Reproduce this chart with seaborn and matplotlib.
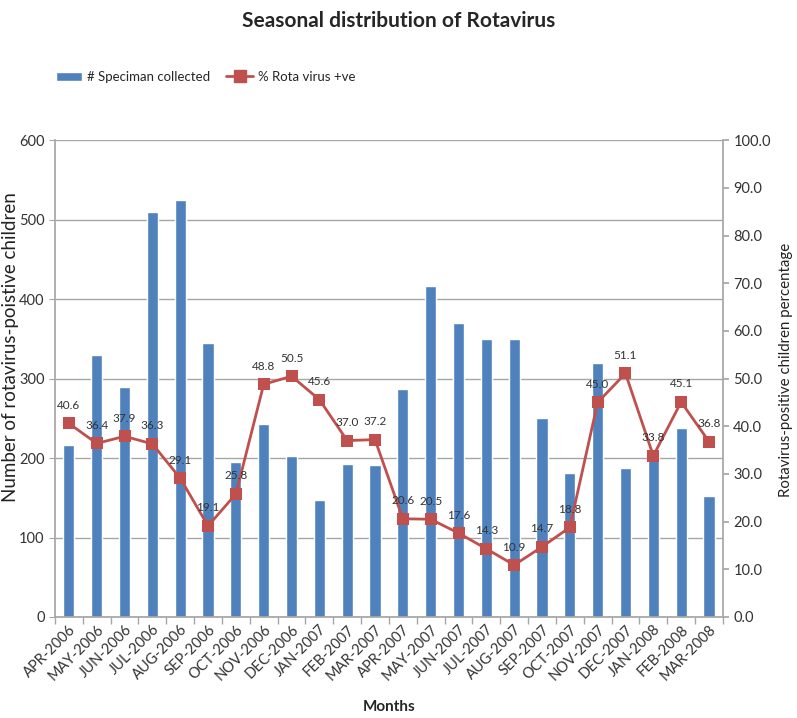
import matplotlib

matplotlib.use("Agg")

import matplotlib.pyplot as plt
import numpy as np
import pandas as pd
import seaborn as sns
from matplotlib.lines import Line2D
from matplotlib.patches import Patch

months = [
    "APR-2006", "MAY-2006", "JUN-2006", "JUL-2006", "AUG-2006", "SEP-2006",
    "OCT-2006", "NOV-2006", "DEC-2006", "JAN-2007", "FEB-2007", "MAR-2007",
    "APR-2007", "MAY-2007", "JUN-2007", "JUL-2007", "AUG-2007", "SEP-2007",
    "OCT-2007", "NOV-2007", "DEC-2007", "JAN-2008", "FEB-2008", "MAR-2008",
]
specimens = [
    217, 330, 290, 510, 525, 345, 195, 243, 202, 147, 192, 191,
    287, 416, 370, 350, 350, 251, 181, 320, 188, 202, 238, 152,
]
rota_pct = [
    40.6, 36.4, 37.9, 36.3, 29.1, 19.1, 25.8, 48.8, 50.5, 45.6, 37.0, 37.2,
    20.6, 20.5, 17.6, 14.3, 10.9, 14.7, 18.8, 45.0, 51.1, 33.8, 45.1, 36.8,
]

BAR_COLOR = "#4F81BD"
LINE_COLOR = "#C0504D"

sns.set_theme(style="white")
plt.rcParams["font.family"] = ["Lato", "DejaVu Sans"]

df = pd.DataFrame({"month": months, "specimens": specimens, "pct": rota_pct})
x = np.arange(len(months))

fig = plt.figure(figsize=(7.97, 7.18), dpi=100)
ax = fig.add_axes([0.069, 0.1407, 0.838, 0.664])

sns.barplot(data=df, x="month", y="specimens", color=BAR_COLOR, width=0.4,
            saturation=1, ax=ax, zorder=2)
ax.set_ylim(0, 600)
ax.set_xlim(-0.5, len(months) - 0.5)
ax.set_yticks(range(0, 601, 100))
ax.yaxis.grid(True, color="#A6A6A6", linewidth=1)
ax.set_axisbelow(True)
ax.tick_params(axis="y", labelsize=10.5, colors="#333333", length=4, left=True,
               direction="out", width=0.8)
ax.tick_params(axis="y", which="major", color="#A6A6A6")
ax.set_xticks(x)
ax.set_xticklabels(months, rotation=45, ha="right", rotation_mode="anchor",
                   fontsize=10.5, color="#333333")
ax.tick_params(axis="x", which="major", length=0, pad=4)
ax.set_xticks(np.arange(-0.5, len(months), 1), minor=True)
ax.tick_params(axis="x", which="minor", length=5, color="#A6A6A6", bottom=True)
for side in ["top", "right"]:
    ax.spines[side].set_visible(False)
for side in ["left", "bottom"]:
    ax.spines[side].set_color("#A6A6A6")
ax.set_xlabel("Months", fontsize=11, fontweight="bold", labelpad=12)
ax.set_ylabel("Number of rotavirus-poistive children", fontsize=13.5,
              color="#222222")
ax.yaxis.set_label_coords(-0.054, 0.566)

ax2 = ax.twinx()
sns.lineplot(x=x, y=rota_pct, ax=ax2, color=LINE_COLOR, linewidth=2,
             marker="s", markersize=9, markeredgewidth=0, zorder=3)
ax2.set_ylim(0, 100)
ax2.set_yticks(range(0, 101, 10))
ax2.set_yticklabels([f"{v:.1f}" for v in range(0, 101, 10)])
ax2.tick_params(axis="y", labelsize=10.5, colors="#333333", length=4,
                right=True, direction="out")
ax2.tick_params(axis="y", color="#A6A6A6")
for side in ["top", "left", "bottom"]:
    ax2.spines[side].set_visible(False)
ax2.spines["right"].set_color("#A6A6A6")
ax2.set_ylabel("Rotavirus-positive children percentage", fontsize=10.8,
               color="#222222")
ax2.yaxis.set_label_coords(1.084, 0.518)
ax2.grid(False)

for xi, v in zip(x, rota_pct):
    ax2.annotate(f"{v:.1f}", (xi, v), xytext=(0, 9), textcoords="offset points",
                 ha="center", va="bottom", fontsize=8.5, color="#333333")

fig.suptitle("Seasonal distribution of Rotavirus", y=0.985, fontsize=15,
             fontweight="bold")
handles = [
    Patch(facecolor=BAR_COLOR, label="# Speciman collected"),
    Line2D([0], [0], color=LINE_COLOR, marker="s", markersize=8, linewidth=2,
           label="% Rota virus +ve"),
]
fig.legend(handles=handles, loc="upper left", bbox_to_anchor=(0.055, 0.918),
           ncol=2, frameon=False, fontsize=9.5, handlelength=2,
           columnspacing=1.2, handletextpad=0.4)

fig.savefig("out.png", dpi=100)
